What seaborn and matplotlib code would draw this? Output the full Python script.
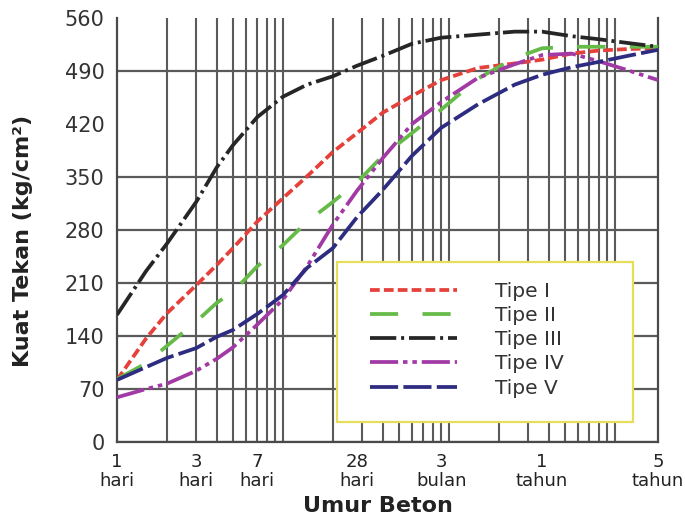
import matplotlib
matplotlib.use("Agg")
import matplotlib.pyplot as plt
import seaborn as sns
import pandas as pd
from matplotlib.lines import Line2D
from matplotlib.patches import Rectangle
from matplotlib.ticker import NullLocator

# ---------------- data ----------------
umur_hari = [1, 1.5, 2, 3, 4, 5, 7, 10, 14, 20, 28, 40, 60, 90, 150, 250, 365, 550, 800, 1200, 1825]
tipe_I   = [82, 137, 170, 207, 234, 256, 291, 322, 351, 383, 408, 435, 457, 478, 494, 500, 505, 513, 517, 519, 520]
tipe_II  = [83, 104, 127, 159, 184, 198, 232, 260, 291, 317, 343, 378, 408, 439, 480, 507, 520, 522, 522, 522, 522]
tipe_III = [168, 226, 262, 317, 363, 392, 429, 456, 472, 483, 497, 510, 526, 534, 538, 542, 542, 536, 532, 527, 522]
tipe_IV  = [59, 70, 77, 94, 110, 125, 155, 188, 232, 287, 332, 375, 420, 449, 481, 499, 511, 513, 503, 491, 478]
tipe_V   = [82, 99, 111, 124, 139, 148, 169, 194, 230, 256, 297, 333, 378, 415, 446, 472, 485, 495, 502, 510, 518]

series_names = ["Tipe I", "Tipe II", "Tipe III", "Tipe IV", "Tipe V"]
series_vals = [tipe_I, tipe_II, tipe_III, tipe_IV, tipe_V]

tick_days = [1, 3, 7, 28, 90, 365, 1825]
tick_labels = ["1\nhari", "3\nhari", "7\nhari", "28\nhari", "3\nbulan", "1\ntahun", "5\ntahun"]
y_ticks = [0, 70, 140, 210, 280, 350, 420, 490, 560]
grid_x = [2, 3, 4, 5, 6, 7, 8, 9, 10, 20, 30, 40, 50, 60, 70, 80, 90, 100,
          200, 300, 400, 500, 600, 700, 800, 900, 1000]
grid_y = [0, 70, 140, 210, 280, 350, 490]

# ---------------- styles ----------------
colors = {"Tipe I": "#e5403a", "Tipe II": "#66bb48", "Tipe III": "#262626",
          "Tipe IV": "#a13aa5", "Tipe V": "#2d2c80"}
dashes = {"Tipe I": (2.6, 1.1),
          "Tipe II": (7.5, 6.5),
          "Tipe III": (7.0, 1.3, 0.8, 1.3),
          "Tipe IV": (7.5, 1.3, 1.2, 1.3, 1.2, 1.3),
          "Tipe V": (7.5, 1.4)}
LW = 2.7

rows = []
for name, vals in zip(series_names, series_vals):
    for d, v in zip(umur_hari, vals):
        rows.append({"umur": d, "kuat": v, "tipe": name})
df = pd.DataFrame(rows)

sns.set_theme(style="white")
plt.rcParams["font.family"] = ["DejaVu Sans"]

fig = plt.figure(figsize=(6.85, 5.2), dpi=100)
ax = fig.add_axes([117 / 685, 78 / 520, 541 / 685, 424 / 520])

sns.lineplot(data=df, x="umur", y="kuat", hue="tipe", style="tipe",
             palette=colors, dashes=dashes, linewidth=LW, legend=False,
             hue_order=series_names, style_order=series_names,
             ax=ax, zorder=3)

ax.set_xscale("log")
ax.set_xlim(1, 1825)
ax.set_ylim(0, 560)
ax.set_xticks(tick_days)
ax.set_xticklabels(tick_labels)
ax.xaxis.set_minor_locator(NullLocator())
ax.set_yticks(y_ticks)
ax.set_yticklabels([str(t) for t in y_ticks])

gc = "#5a5a5a"
ax.vlines(grid_x, 0, 1, transform=ax.get_xaxis_transform(), colors=gc, lw=1.5, zorder=1)
ax.hlines(grid_y, 0, 1, transform=ax.get_yaxis_transform(), colors=gc, lw=1.6, zorder=1)

for s in ["left", "bottom", "right"]:
    ax.spines[s].set_color("#4a4a4a")
    ax.spines[s].set_linewidth(1.6)
ax.spines["top"].set_visible(False)

ax.tick_params(axis="x", which="major", direction="out", length=5, width=1.4,
               color="#444444", labelsize=13, labelcolor="#222222", pad=3)
ax.tick_params(axis="y", which="major", direction="out", length=3, width=1.2,
               color="#444444", labelsize=15, labelcolor="#333333", pad=6)
for lab in ax.get_xticklabels():
    lab.set_linespacing(1.05)

ax.set_xlabel("Umur Beton", fontsize=16, fontweight="bold", color="#222222")
ax.xaxis.set_label_coords(0.482, -0.127)
ax.xaxis.label.set_va("top")
ax.set_ylabel("Kuat Tekan (kg/cm²)", fontsize=16, fontweight="bold", color="#222222")
ax.yaxis.set_label_coords(-0.155, 0.474)

# legend box
box = Rectangle((0.4067, 0.047), 0.5471, 0.3775, transform=ax.transAxes,
                facecolor="white", edgecolor="#e6dd5a", lw=1.6, zorder=2)
ax.add_patch(box)

handles = [Line2D([], [], color=colors[n], lw=LW, dashes=dashes[n]) for n in series_names]
leg = ax.legend(handles, series_names, loc="upper left", bbox_to_anchor=(0.4677, 0.378),
                frameon=False, fontsize=14.5, handlelength=4.3, handletextpad=1.9,
                labelspacing=0.26, borderpad=0, borderaxespad=0)
leg.set_zorder(5)
for t in leg.get_texts():
    t.set_color("#333333")

fig.savefig("out.png", dpi=100)
